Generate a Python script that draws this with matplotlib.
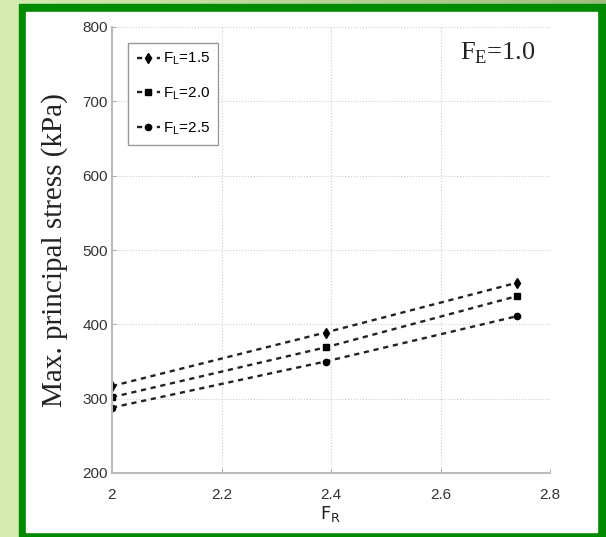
import numpy as np
import matplotlib
matplotlib.use("Agg")
import matplotlib.pyplot as plt
from matplotlib.patches import Rectangle
from matplotlib.colors import LinearSegmentedColormap

# data
f_r = [2.0, 2.39, 2.74]
stress_15 = [317, 389, 456]
stress_20 = [302, 369, 438]
stress_25 = [288, 350, 411]
labels = ['1.5', '2.0', '2.5']
markers = ['d', 's', 'o']

plt.rcParams['mathtext.fontset'] = 'custom'
plt.rcParams['mathtext.rm'] = 'Liberation Sans'
plt.rcParams['mathtext.it'] = 'Liberation Sans'

W, H = 606, 537
fig = plt.figure(figsize=(W / 100, H / 100), dpi=100)

# green gradient background with the framed white panel
bg = fig.add_axes([0, 0, 1, 1], zorder=-10)
grad = np.linspace(0, 1, 256)[None, :]
cmap = LinearSegmentedColormap.from_list('g', ['#d6ecb0', '#b9d59a', '#9fbf80'])
bg.imshow(grad, aspect='auto', cmap=cmap, extent=[0, 1, 0, 1])
bg.set_xlim(0, 1)
bg.set_ylim(0, 1)
bg.axis('off')
bg.add_patch(Rectangle((19 / W, 0), (606 - 19) / W, 533 / H, color='#008a00'))
bg.add_patch(Rectangle((26 / W, 5 / H), (597 - 26) / W, (525 - 5) / H, color='white'))

ax = fig.add_axes([112 / W, 1 - 473 / H, (550 - 112) / W, (473 - 27) / H])
series = [stress_15, stress_20, stress_25]
for vals, lab, mk in zip(series, labels, markers):
    ms = {'d': 5, 's': 4, 'o': 4.5}[mk]
    ax.plot(f_r, vals, linestyle=(0, (2.2, 2.0)), color='#222222', linewidth=1.7,
            marker=mk, markersize=ms, markerfacecolor='black', markeredgecolor='black',
            label=r'$\mathregular{F_L}$=' + lab)

ax.set_xlim(2, 2.8)
ax.set_ylim(200, 800)
ax.set_xticks([2, 2.2, 2.4, 2.6, 2.8])
ax.set_xticklabels(['2', '2.2', '2.4', '2.6', '2.8'])
ax.set_yticks([200, 300, 400, 500, 600, 700, 800])
ax.grid(True, linestyle=':', color='#cccccc', linewidth=0.8)
for s in ['top', 'right']:
    ax.spines[s].set_visible(False)
for s in ['left', 'bottom']:
    ax.spines[s].set_color('#bbbbbb')
    ax.spines[s].set_linewidth(1.5)
ax.tick_params(direction='in', length=3, width=0.6, color='#999999',
               labelsize=11, pad=3)
ax.tick_params(axis='x', pad=11)
for t in ax.get_xticklabels() + ax.get_yticklabels():
    t.set_fontfamily('Liberation Sans')
    t.set_color('#333333')

ax.set_ylabel('Max. principal stress (kPa)', fontfamily='Liberation Serif',
              fontsize=21, color='#222222', labelpad=10)
ax.set_xlabel(r'$\mathregular{F_R}$', fontsize=13, color='#222222', labelpad=1)

ax.text(0.795, 0.94, r'F$_\mathregular{E}$=1.0', transform=ax.transAxes,
        fontfamily='Liberation Serif', fontsize=19, color='#222222', va='center')

ax.legend(loc='upper left', bbox_to_anchor=(0.02, 0.982),
          handlelength=1.5, labelspacing=1.2, handletextpad=0.2,
          borderpad=0.55, fancybox=False, framealpha=1,
          edgecolor='#999999', prop={'family': 'Liberation Sans', 'size': 11})

fig.savefig('out.png', dpi=100)
